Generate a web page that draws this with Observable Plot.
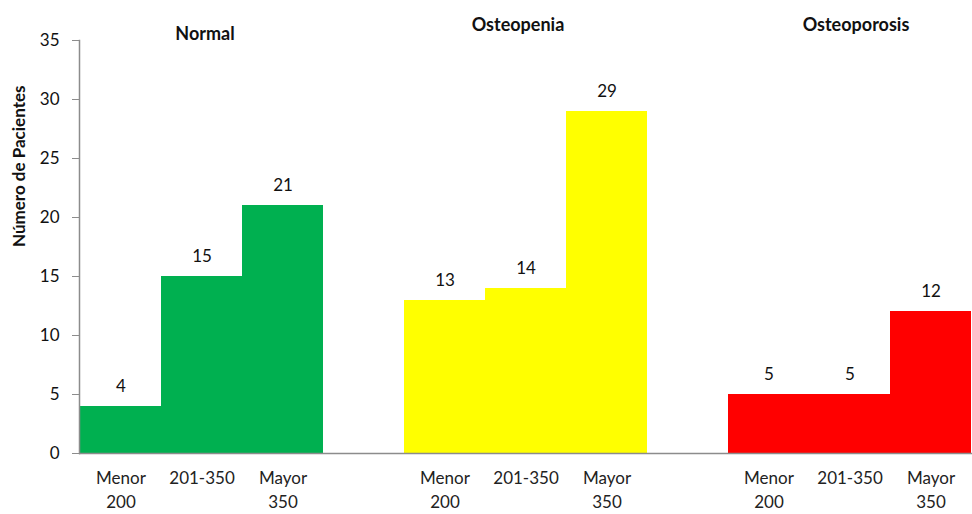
<!DOCTYPE html>
<html>
<head>
<meta charset="utf-8">
<script src="https://cdn.jsdelivr.net/npm/d3@7"></script>
<script src="https://cdn.jsdelivr.net/npm/@observablehq/plot@0.6"></script>
<style>
  html, body { margin: 0; padding: 0; background: #fff; }
  #chart { width: 972px; height: 514px; }
</style>
</head>
<body>
<div id="chart"></div>
<script>
// ---- data ----
const groups = ["Normal", "Osteopenia", "Osteoporosis"];
const categories = ["Menor 200", "201-350", "Mayor 350"];
const tickLabels = ["Menor\n200", "201-350", "Mayor\n350"];
const normalValues = [4, 15, 21];
const osteopeniaValues = [13, 14, 29];
const osteoporosisValues = [5, 5, 12];
const groupColors = ["#00B050", "#FFFF00", "#FF0000"];
const yTicks = [0, 5, 10, 15, 20, 25, 30, 35];
const yLabel = "Número de Pacientes";

// ---- build table ----
const seriesValues = [normalValues, osteopeniaValues, osteoporosisValues];
const rows = groups.flatMap((g, gi) =>
  categories.map((c, ci) => ({
    key: `${g}|${c}`,
    group: g,
    label: tickLabels[ci],
    value: seriesValues[gi][ci]
  }))
);
const domain = [];
groups.forEach((g, gi) => {
  categories.forEach(c => domain.push(`${g}|${c}`));
  if (gi < groups.length - 1) domain.push(`gap${gi}`);
});
const labelOf = new Map(rows.map(r => [r.key, r.label]));
const midKey = g => `${g}|${categories[1]}`;

const titleOffsets = [{dx: 3, dy: -13}, {dx: -8, dy: -22}, {dx: 6, dy: -22}];

const chart = Plot.plot({
  width: 972,
  height: 514,
  marginLeft: 79,
  marginRight: 0,
  marginTop: 40,
  marginBottom: 61,
  style: {fontFamily: "Lato, sans-serif", fontSize: "17px", color: "#111", background: "#fff"},
  x: {type: "band", domain, padding: 0, label: null, axis: null},
  y: {domain: [0, 35], label: null, axis: null},
  color: {domain: groups, range: groupColors},
  marks: [
    Plot.barY(rows, {x: "key", y: "value", fill: "group", shapeRendering: "crispEdges"}),
    Plot.ruleY([0], {stroke: "#8c8c8c", strokeWidth: 1.5}),
    Plot.frame({anchor: "left", stroke: "#8c8c8c", strokeWidth: 1.5}),
    Plot.axisY({ticks: yTicks, tickSize: 7, tickPadding: 13, fontSize: 17, stroke: "#8c8c8c", fill: "#111", label: null}),
    Plot.axisX({
      tickSize: 0, tickPadding: 14, fontSize: 17, lineHeight: 1.38, fill: "#222",
      tickFormat: k => labelOf.get(k) ?? "", label: null
    }),
    Plot.text(rows, {x: "key", y: "value", text: d => String(d.value), dy: -20, fontSize: 17, fill: "#111"}),
    ...groups.map((g, gi) =>
      Plot.text([g], {x: midKey, frameAnchor: "top", dx: titleOffsets[gi].dx, dy: titleOffsets[gi].dy,
        fontWeight: "bold", fontSize: 18, fill: "#111"})
    ),
    Plot.text([yLabel], {frameAnchor: "left", rotate: -90, dx: -60, fontWeight: "bold", fontSize: 17, fill: "#111"})
  ]
});
document.getElementById("chart").appendChild(chart);
</script>
</body>
</html>
